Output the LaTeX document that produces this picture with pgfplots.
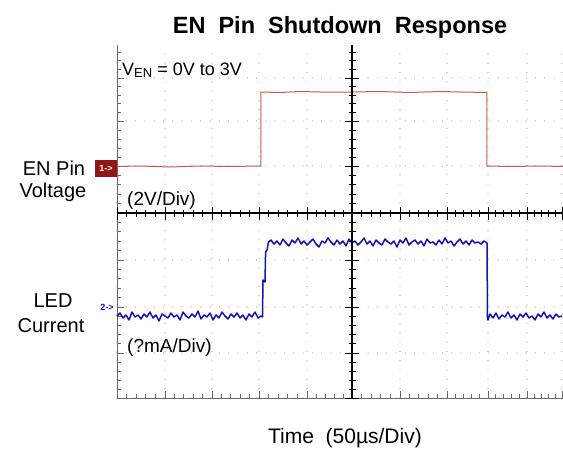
\documentclass[border=0pt]{standalone}
\usepackage{fontspec}
\setmainfont{Liberation Sans}
\usepackage{pgfplots}
\pgfplotsset{compat=1.18}
\definecolor{trred}{RGB}{196,88,88}
\definecolor{trblue}{RGB}{20,20,168}
\definecolor{mkred}{RGB}{145,22,22}
\definecolor{gridgray}{RGB}{160,160,160}
\definecolor{bordergray}{RGB}{105,105,105}
\begin{document}
\begin{tikzpicture}
\begin{axis}[
  name=main,
  width=446pt, height=353pt, scale only axis,
  xmin=117, xmax=563, ymin=50, ymax=403,
  axis x line=bottom, axis y line=left,
  axis line style={-, bordergray, line width=0.9pt},
  xtick={117,165,212,259,307,352,400,447,488,527,562},
  ytick={50,95,141,188,235,282,327,370},
  minor xtick={126.6,136.2,145.8,155.4,174.4,183.8,193.2,202.6,221.4,230.8,240.2,249.6,268.6,278.2,287.8,297.4,316,325,334,343,361.6,371.2,380.8,390.4,409.4,418.8,428.2,437.6,455.2,463.4,471.6,479.8,495.8,503.6,511.4,519.2,534,541,548,555},
  minor ytick={59,68,77,86,104.2,113.4,122.6,131.8,150.4,159.8,169.2,178.6,197.4,206.8,216.2,225.6,244.4,253.8,263.2,272.6,291,300,309,318,335.6,344.2,352.8,361.4,378.6,387.2,395.8},
  xticklabels={}, yticklabels={},
  tick align=inside,
  major tick length=7pt, minor tick length=4pt,
  tick style={bordergray, line width=0.8pt},
  grid=major,
  major grid style={gridgray, line width=1.2pt, line cap=round, dash pattern=on 0pt off 9.3pt},
  clip=false,
]
\addplot[trred, line width=1pt] coordinates {
(117,281.5)(140,282)(170,281)(200,282)(230,281.5)(261,282)(261,356)(280,355.5)(300,356.5)(320,356)(352,356)(380,356.5)(410,355.5)(440,356.5)(460,356)(487,355.5)(487,282)(510,281.5)(540,282)(563,281.5)
};
\addplot[trblue, line width=1.5pt, line join=round] coordinates {
(117,132)(120,135)(123,130)(126,133)(129,128)(132,136)(135,131)(138,133)(141,129)(144,134)
(147,131)(150,136)(153,130)(156,133)(159,127)(162,134)(165,132)(168,130)(171,135)(174,131)
(177,133)(180,128)(183,136)(186,132)(189,130)(192,134)(195,131)(198,137)(201,129)(204,133)
(207,131)(210,135)(213,128)(216,133)(219,130)(222,136)(225,132)(228,129)(231,134)(234,131)
(237,135)(240,130)(243,133)(246,128)(249,134)(252,131)(255,136)(258,130)(261,132)
(262.5,131)(263,168)(265,166)(265.6,196)(267,198)(268.5,206)
(271,208)(274,204)(277,207)(280,203)(283,209)(286,205)(289,202)(292,208)(295,205)(298,210)
(301,204)(304,207)(307,203)(310,206)(313,209)(316,204)(319,201)(322,207)(325,205)(328,210)
(331,206)(334,203)(337,208)(340,204)(343,207)(346,202)(349,209)(352,205)(355,207)(358,203)
(361,206)(364,210)(367,204)(370,207)(373,202)(376,208)(379,205)(382,203)(385,209)(388,206)
(391,204)(394,207)(397,201)(400,208)(403,205)(406,210)(409,203)(412,206)(415,208)(418,204)
(421,207)(424,202)(427,209)(430,205)(433,206)(436,203)(439,208)(442,204)(445,210)(448,205)
(451,207)(454,202)(457,206)(460,209)(463,204)(466,207)(469,203)(472,208)(475,205)(478,206)
(481,204)(484,207)(487,205)
(487.5,130)(488,128)(490,134)(493,130)(496,135)(499,129)(502,133)(505,131)(508,136)(511,130)
(514,133)(517,128)(520,134)(523,131)(526,135)(529,130)(532,132)(535,128)(538,134)(541,131)
(544,136)(547,130)(550,133)(553,129)(556,134)(559,131)(562,132)
};
% texts
\node[anchor=base, inner sep=0, font=\fontsize{23.5}{23.5}\selectfont\bfseries] at (axis cs:340,414) {EN\ \ Pin\ \ Shutdown\ \ Response};
\node[anchor=base west, inner sep=0, font=\fontsize{18}{18}\selectfont] at (axis cs:122,373) {V\raisebox{-2pt}{\fontsize{13}{13}\selectfont EN} = 0V to 3V};
\node[anchor=base west, inner sep=0, font=\fontsize{19}{19}\selectfont] at (axis cs:127,243) {(2V/Div)};
\node[anchor=base west, inner sep=0, font=\fontsize{19}{19}\selectfont] at (axis cs:127,96) {(?mA/Div)};
\node[anchor=base, inner sep=0, font=\fontsize{20}{20}\selectfont] at (axis cs:54,273) {EN Pin};
\node[anchor=base, inner sep=0, font=\fontsize{20}{20}\selectfont] at (axis cs:53,251) {Voltage};
\node[anchor=base, inner sep=0, font=\fontsize{20}{20}\selectfont] at (axis cs:53,141) {LED};
\node[anchor=base, inner sep=0, font=\fontsize{20}{20}\selectfont] at (axis cs:51,116) {Current};
\node[anchor=base, inner sep=0, font=\fontsize{21}{21}\selectfont] at (axis cs:345,5) {Time\ \ (50µs/Div)};
\node[fill=mkred, text=white, minimum width=22pt, minimum height=17pt, inner sep=0, font=\fontsize{9}{9}\selectfont\bfseries] at (axis cs:106,279.5) {1->};
\node[text=trblue, inner sep=0, font=\fontsize{9}{9}\selectfont\bfseries] at (axis cs:107,141) {2->};
\coordinate (bl) at (axis cs:0,0);
\coordinate (tr) at (axis cs:563,448);
\end{axis}
\begin{axis}[
  at={(main.south west)}, anchor=south west,
  width=446pt, height=353pt, scale only axis,
  xmin=-235, xmax=211, ymin=-185, ymax=168,
  axis lines=middle,
  axis line style={-, black, line width=1.3pt},
  xtick={-235,-187,-140,-93,-45,0,48,95,136,175,210},
  ytick={-185,-140,-94,-47,0,47,92,135},
  minor xtick={-225.4,-215.8,-206.2,-196.6,-177.6,-168.2,-158.8,-149.4,-130.6,-121.2,-111.8,-102.4,-83.4,-73.8,-64.2,-54.6,-36,-27,-18,-9,9.6,19.2,28.8,38.4,57.4,66.8,76.2,85.6,103.2,111.4,119.6,127.8,143.8,151.6,159.4,167.2,182,189,196,203},
  minor ytick={-176,-167,-158,-149,-130.8,-121.6,-112.4,-103.2,-84.6,-75.2,-65.8,-56.4,-37.6,-28.2,-18.8,-9.4,9.4,18.8,28.2,37.6,56,65,74,83,100.6,109.2,117.8,126.4,143.6,152.2,160.8},
  xticklabels={}, yticklabels={},
  tick align=center,
  major tick length=13pt, minor tick length=7pt,
  tick style={black, line width=0.9pt},
]
\end{axis}
\pgfresetboundingbox
\useasboundingbox (bl) rectangle (tr);
\end{tikzpicture}
\end{document}
